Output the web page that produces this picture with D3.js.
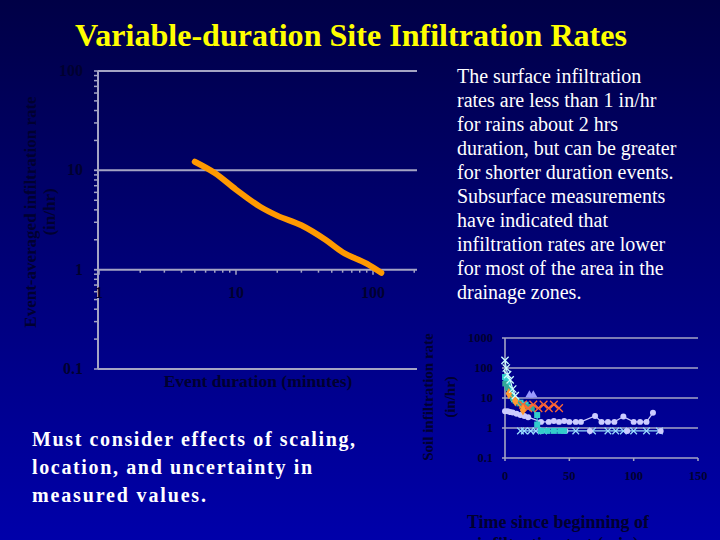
<!DOCTYPE html>
<html>
<head>
<meta charset="utf-8">
<script src="https://cdn.jsdelivr.net/npm/d3@7"></script>
<style>
  html, body { margin: 0; padding: 0; background: #000060; }
  svg { display: block; }
</style>
</head>
<body>
<div id="chart"></div>
<script>
// main chart: event-averaged rate vs duration (log-log)
const durations = [5, 7, 10, 15, 20, 30, 45, 60, 90, 115];
const rates = [12.2, 9.4, 6.4, 4.3, 3.5, 2.8, 2.0, 1.5, 1.15, 0.93];
const mainYTicks = [0.1, 1, 10, 100];
const mainXTicks = [1, 10, 100];

// inset chart: soil infiltration tests, [minutes, in/hr]
const lightXSeries = [[0, 180], [1, 100], [2, 60], [4, 40], [6, 20], [8, 12]];
const cyanSeries = [[0, 50], [1, 40], [2, 30], [3, 22], [4, 16], [5, 12], [7, 9], [9, 8], [12, 7], [16, 6], [20, 5],
  [25, 2.7], [25, 1.3], [28, 0.8], [33, 0.8], [38, 0.8], [43, 0.8], [46, 0.8]];
const tealSeries = [[0, 30], [2, 22], [4, 15], [6, 10], [8, 8], [11, 6.5], [14, 5.5], [18, 5], [21, 4.5]];
const orangeXSeries = [[14, 6], [18, 4.6], [22, 6], [26, 4.6], [30, 6], [34, 4.6], [38, 6], [42, 4.6]];
const diamondSeries = [[3, 14], [8, 8], [14, 4]];
const triangleSeries = [[19, 12.5], [22, 12.5]];
const circleSeries = [[0, 3.6], [2, 3.6], [4, 3.4], [6, 3.3], [9, 3.0], [12, 2.7], [15, 2.5], [18, 2.3],
  [28, 1.6], [34, 1.6], [38, 1.7], [42, 1.6], [46, 1.7], [50, 1.6], [55, 1.6], [59, 1.6], [70, 2.5],
  [75, 1.6], [80, 1.6], [85, 1.6], [92, 2.4], [100, 1.6], [105, 1.6], [110, 1.6], [115, 3.2]];
const bottomXSeries = [[12, 0.8], [15, 0.8], [20, 0.8], [24, 0.8], [30, 0.8], [55, 0.8], [68, 0.8], [80, 0.8],
  [86, 0.8], [92, 0.8], [100, 0.8], [110, 0.8], [120, 0.8]];
const bottomCircleSeries = [[28, 0.8], [47, 0.8], [66, 0.8], [95, 0.8], [121, 0.8]];
const insetYTicks = [0.1, 1, 10, 100, 1000];
const insetXTicks = [0, 50, 100, 150];

const noteLines = ['The surface infiltration', 'rates are less than 1 in/hr', 'for rains about 2 hrs',
  'duration, but can be greater', 'for shorter duration events.', 'Subsurface measurements',
  'have indicated that', 'infiltration rates are lower', 'for most of the area in the', 'drainage zones.'];
const footLines = ['Must consider effects of scaling,', 'location, and uncertainty in', 'measured values.'];

const W = 720, H = 540;
const serif = '"Liberation Serif", "Times New Roman", serif';
const dark = '#000030';
const grid = '#a4a4c4';

const svg = d3.select('#chart').append('svg').attr('width', W).attr('height', H);

const defs = svg.append('defs');
const grad = defs.append('linearGradient').attr('id', 'bg').attr('x1', 0).attr('y1', 0).attr('x2', 0).attr('y2', 1);
grad.append('stop').attr('offset', '0%').attr('stop-color', '#000046');
grad.append('stop').attr('offset', '100%').attr('stop-color', '#0000aa');
svg.append('rect').attr('width', W).attr('height', H).attr('fill', 'url(#bg)');

svg.append('text')
  .attr('x', 75).attr('y', 46)
  .attr('textLength', 552).attr('lengthAdjust', 'spacingAndGlyphs')
  .style('font-family', serif).style('font-weight', 'bold').style('font-size', '32px')
  .style('fill', '#ffff00')
  .text('Variable-duration Site Infiltration Rates');

// ---- main chart ----
const x = d3.scaleLog().domain([1, 100]).range([99, 373]);
const y = d3.scaleLog().domain([0.1, 100]).range([369, 71]);
const plotRight = 417;

const main = svg.append('g');
main.selectAll('.grid').data(mainYTicks).enter().append('line')
  .attr('x1', x(1) - 1).attr('x2', plotRight)
  .attr('y1', d => y(d)).attr('y2', d => y(d))
  .attr('stroke', grid).attr('stroke-width', 2);
main.append('line')
  .attr('x1', x(1) - 1).attr('x2', x(1) - 1).attr('y1', y(100)).attr('y2', y(0.1))
  .attr('stroke', grid).attr('stroke-width', 2);

// minor ticks on the y axis
const yMinor = [];
[0.1, 1, 10].forEach(d => { for (let k = 1; k <= 10; k++) yMinor.push(d * k); });
main.selectAll('.ytick').data(yMinor).enter().append('line')
  .attr('x1', x(1) - 5).attr('x2', x(1) - 1)
  .attr('y1', d => y(d)).attr('y2', d => y(d))
  .attr('stroke', grid).attr('stroke-width', 1.5);

// x axis sits on the y=1 line
const xMinor = [];
[1, 10, 100].forEach(d => { for (let k = 1; k <= 9; k++) if (d * k <= 200) xMinor.push(d * k); });
main.selectAll('.xtick').data(xMinor).enter().append('line')
  .attr('x1', d => x(d)).attr('x2', d => x(d))
  .attr('y1', y(1)).attr('y2', d => y(1) + (mainXTicks.includes(d) ? 5 : 3))
  .attr('stroke', grid).attr('stroke-width', 1.5);

main.selectAll('.ylab').data(mainYTicks).enter().append('text')
  .attr('x', 83).attr('y', d => y(d) + 5)
  .attr('text-anchor', 'end')
  .style('font-family', serif).style('font-weight', 'bold').style('font-size', '16px').style('fill', dark)
  .text(d => d);
main.selectAll('.xlab').data(mainXTicks).enter().append('text')
  .attr('x', d => x(d)).attr('y', y(1) + 28)
  .attr('text-anchor', 'middle')
  .style('font-family', serif).style('font-weight', 'bold').style('font-size', '16px').style('fill', dark)
  .text(d => d);

main.append('path')
  .datum(durations.map((d, i) => [d, rates[i]]))
  .attr('d', d3.line().x(d => x(d[0])).y(d => y(d[1])).curve(d3.curveMonotoneX))
  .attr('fill', 'none').attr('stroke', '#ff9900').attr('stroke-width', 6)
  .attr('stroke-linecap', 'round').attr('stroke-linejoin', 'round');

main.append('text')
  .attr('x', 258).attr('y', 387).attr('text-anchor', 'middle')
  .style('font-family', serif).style('font-weight', 'bold').style('font-size', '17.5px').style('fill', dark)
  .text('Event duration (minutes)');

const yTitle = main.append('text')
  .attr('transform', 'translate(36,212) rotate(-90)')
  .attr('text-anchor', 'middle')
  .style('font-family', serif).style('font-weight', 'bold').style('font-size', '17px').style('fill', dark);
yTitle.append('tspan').attr('x', 0).attr('y', 0).text('Event-averaged infiltration rate');
yTitle.append('tspan').attr('x', 0).attr('y', 19).text('(in/hr)');

// ---- note text ----
svg.append('g').selectAll('text').data(noteLines).enter().append('text')
  .attr('x', 457).attr('y', (d, i) => 83 + i * 24)
  .style('font-family', serif).style('font-size', '20px').style('fill', '#ffffff')
  .text(d => d);

const footLen = [323, 280, 174];
svg.append('g').selectAll('text').data(footLines).enter().append('text')
  .attr('x', 32).attr('y', (d, i) => 446 + i * 28)
  .attr('textLength', (d, i) => footLen[i]).attr('lengthAdjust', 'spacing')
  .style('font-family', serif).style('font-weight', 'bold').style('font-size', '20px').style('fill', '#ffffff')
  .text(d => d);

// ---- inset chart ----
const xs = d3.scaleLinear().domain([0, 150]).range([505, 698]);
const ys = d3.scaleLog().domain([0.1, 1000]).range([458, 338]);
const inset = svg.append('g');

inset.selectAll('.grid').data(insetYTicks).enter().append('line')
  .attr('x1', xs(0) - 3).attr('x2', xs(150))
  .attr('y1', d => ys(d)).attr('y2', d => ys(d))
  .attr('stroke', grid).attr('stroke-width', 1.6);
inset.append('line')
  .attr('x1', xs(0)).attr('x2', xs(0)).attr('y1', ys(1000)).attr('y2', ys(0.1))
  .attr('stroke', grid).attr('stroke-width', 1.6);
inset.selectAll('.xt').data(insetXTicks).enter().append('line')
  .attr('x1', d => xs(d)).attr('x2', d => xs(d)).attr('y1', ys(0.1)).attr('y2', ys(0.1) + 3)
  .attr('stroke', grid).attr('stroke-width', 1.5);

inset.selectAll('.ylab').data(insetYTicks).enter().append('text')
  .attr('x', 493).attr('y', d => ys(d) + 4).attr('text-anchor', 'end')
  .style('font-family', serif).style('font-weight', 'bold').style('font-size', '12.5px').style('fill', dark)
  .text(d => d);
inset.selectAll('.xlab').data(insetXTicks).enter().append('text')
  .attr('x', d => xs(d)).attr('y', 480).attr('text-anchor', 'middle')
  .style('font-family', serif).style('font-weight', 'bold').style('font-size', '12.5px').style('fill', dark)
  .text(d => d);

const insetLine = d3.line().x(d => xs(d[0])).y(d => ys(d[1]));
const insetSeries = [
  { data: circleSeries, color: '#ccccff', type: d3.symbolCircle, size: 28, line: true },
  { data: bottomXSeries, color: '#99ddff', type: d3.symbolTimes, size: 30, line: true, stroke: true },
  { data: bottomCircleSeries, color: '#ccccff', type: d3.symbolCircle, size: 28, line: false },
  { data: cyanSeries, color: '#33cccc', type: d3.symbolSquare, size: 36, line: true },
  { data: tealSeries, color: '#33aa99', type: d3.symbolSquare, size: 30, line: true },
  { data: orangeXSeries, color: '#ff6633', type: d3.symbolTimes, size: 40, line: true, stroke: true },
  { data: diamondSeries, color: '#ff9933', type: d3.symbolDiamond, size: 36, line: true },
  { data: triangleSeries, color: '#9999ff', type: d3.symbolTriangle, size: 30, line: false },
  { data: lightXSeries, color: '#ccffff', type: d3.symbolTimes, size: 36, line: true, stroke: true }
];
insetSeries.forEach(s => {
  const g = inset.append('g');
  if (s.line) {
    g.append('path').datum(s.data).attr('d', insetLine)
      .attr('fill', 'none').attr('stroke', s.color).attr('stroke-width', 1.2);
  }
  g.selectAll('path.m').data(s.data).enter().append('path').attr('class', 'm')
    .attr('transform', d => `translate(${xs(d[0])},${ys(d[1])})`)
    .attr('d', d3.symbol().type(s.type).size(s.size))
    .attr('fill', s.stroke ? 'none' : s.color)
    .attr('stroke', s.stroke ? s.color : 'none')
    .attr('stroke-width', 1.3);
});

const sTitle = inset.append('text')
  .attr('transform', 'translate(433,397) rotate(-90)')
  .attr('text-anchor', 'middle')
  .style('font-family', serif).style('font-weight', 'bold').style('font-size', '15px').style('fill', dark);
sTitle.append('tspan').attr('x', 0).attr('y', 0).text('Soil infiltration rate');
sTitle.append('tspan').attr('x', 0).attr('y', 22).text('(in/hr)');

const tTitle = inset.append('text')
  .attr('text-anchor', 'middle')
  .style('font-family', serif).style('font-weight', 'bold').style('font-size', '18px').style('fill', dark);
tTitle.append('tspan').attr('x', 558).attr('y', 528).text('Time since beginning of');
tTitle.append('tspan').attr('x', 558).attr('y', 550).text('infiltration test (min)');
</script>
</body>
</html>
